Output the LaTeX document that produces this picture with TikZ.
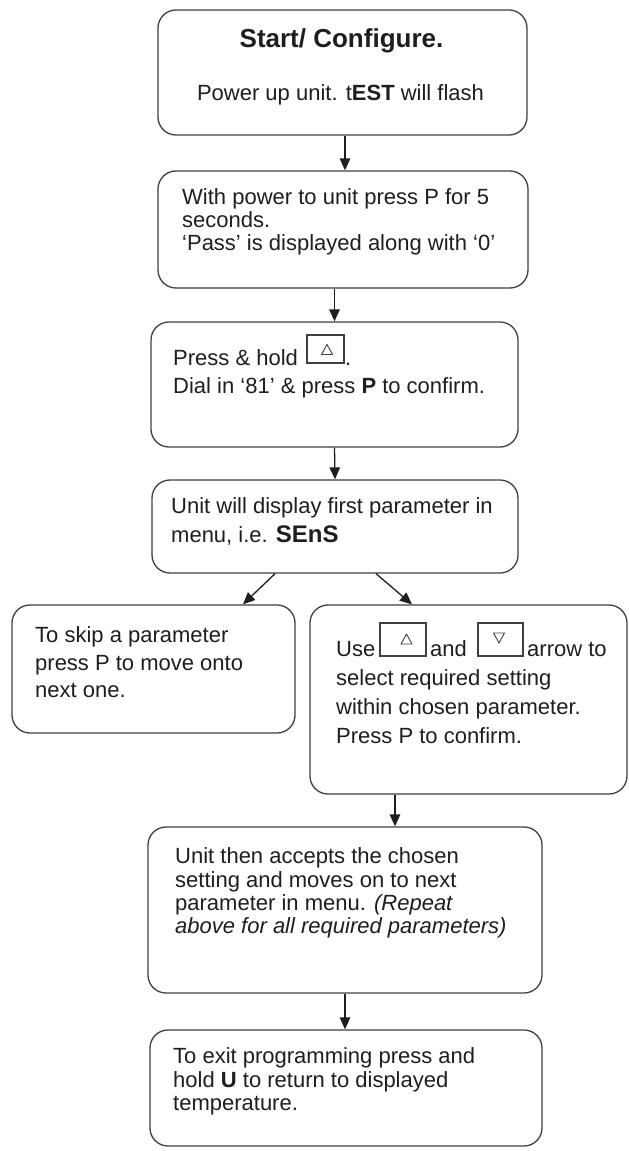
\documentclass[tikz,border=0pt]{standalone}
\usepackage{fontspec}
\setmainfont{Liberation Sans}
\usetikzlibrary{arrows.meta}
\definecolor{linec}{HTML}{404040}
\definecolor{textc}{HTML}{1E1E1E}
\begin{document}
\begin{tikzpicture}[x=1pt,y=-1pt,
  box/.style={draw=linec, line width=1.3pt, rounded corners=18pt, inner sep=0pt, fill=white},
  txt/.style={anchor=base west, inner sep=0pt, text=textc, font=\fontsize{22}{26}\selectfont},
  ctxt/.style={txt, anchor=base},
  arr/.style={draw=textc, line width=1.3pt, -{Triangle[length=12pt,width=10.5pt]}},
  keybox/.style={draw=linec, line width=1.1pt, inner sep=0pt},
  tri/.style={draw=linec, line width=0.9pt, line join=round}]
\useasboundingbox (0,0) rectangle (629,1151);

% boxes
\node[box, minimum width=369pt, minimum height=125pt] (b1) at (342.5,72.5) {};
\node[box, minimum width=370pt, minimum height=117pt] (b2) at (343,229.5) {};
\node[box, minimum width=367pt, minimum height=125pt] (b3) at (334.5,384.5) {};
\node[box, minimum width=366pt, minimum height=93pt] (b4) at (335,526.5) {};
\node[box, minimum width=283pt, minimum height=128pt] (b5l) at (153.5,669) {};
\node[box, minimum width=317pt, minimum height=189pt] (b5r) at (468.5,699.5) {};
\node[box, minimum width=394pt, minimum height=166pt] (b6) at (345,910) {};
\node[box, minimum width=392pt, minimum height=116pt] (b7) at (346,1088) {};

% box 1
\node[ctxt, font=\fontsize{26}{30}\selectfont\bfseries] (t1a) at (341.5,47) {Start/ Configure.};
\node[ctxt] (t1b) at (340.5,100) {Power up unit. t\textbf{EST} will flash};

% box 2
\node[txt] (t2a) at (182,204) {With power to unit press P for 5};
\node[txt] (t2b) at (182,227) {seconds.};
\node[txt] (t2c) at (182,250) {‘Pass’ is displayed along with ‘0’};

% box 3
\node[txt] (t3a) at (173,365) {Press \& hold};
\node[keybox, minimum width=37pt, minimum height=28pt] (k0) at (325.5,349) {};
\draw[tri] (k0.center) ++(1.5,-4.5) -- ++(5.5,10) -- ++(-11,0) -- cycle;
\node[txt] (t3p) at (345,365) {.};
\node[txt] (t3b) at (173,393) {Dial in ‘81’ \& press \textbf{P} to confirm.};

% box 4
\node[txt] (t4a) at (171,513) {Unit will display first parameter in};
\node[txt] (t4b) at (171,542) {menu, i.e. {\fontsize{24}{28}\selectfont\bfseries SEnS}};

% left box
\node[txt] (t5a) at (35,642) {To skip a parameter};
\node[txt] (t5b) at (35,670) {press P to move onto};
\node[txt] (t5c) at (35,697) {next one.};

% right box
\node[txt] (t6a) at (336,656) {Use};
\node[keybox, minimum width=46pt, minimum height=33pt] (k1) at (403,639.5) {};
\draw[tri] (k1.center) ++(3.5,-5.5) -- ++(5.5,10) -- ++(-11,0) -- cycle;
\node[txt] (t6and) at (430,656) {and};
\node[keybox, minimum width=45pt, minimum height=33pt] (k2) at (500.5,639.5) {};
\draw[tri] (k2.center) ++(-1.5,3.5) -- ++(5.5,-10) -- ++(-11,0) -- cycle;
\node[txt] (t6arr) at (527,656) {arrow to};
\node[txt] (t6b) at (336,685) {select required setting};
\node[txt] (t6c) at (336,714) {within chosen parameter.};
\node[txt] (t6d) at (336,743) {Press P to confirm.};

% box 6
\node[txt] (t7a) at (175,863) {Unit then accepts the chosen};
\node[txt] (t7b) at (175,887) {setting and moves on to next};
\node[txt] (t7c) at (175,910) {parameter in menu. \textit{(Repeat}};
\node[txt] (t7d) at (175,933) {\textit{above for all required parameters)}};

% box 7
\node[txt] (t8a) at (173,1063) {To exit programming press and};
\node[txt] (t8b) at (173,1087) {hold \textbf{U} to return to displayed};
\node[txt] (t8c) at (173,1110) {temperature.};

% connectors
\coordinate (d1) at ([xshift=2.5pt]b1.south);
\draw[arr] (d1) -- (d1 |- b2.north);
\draw[arr] (b2.south -| b3.north) -- (b3.north);
\draw[arr] (b3.south) -- (b4.north);
\draw[arr] ([xshift=-60pt]b4.south) -- ([xshift=89.5pt]b5l.north);
\draw[arr] ([xshift=41pt]b4.south) -- ([xshift=-56.5pt]b5r.north);
\coordinate (d5) at ([xshift=-73.5pt]b5r.south);
\draw[arr] (d5) -- (d5 |- b6.north);
\draw[arr] (b6.south) -- (b6.south |- b7.north);
\end{tikzpicture}
\end{document}
